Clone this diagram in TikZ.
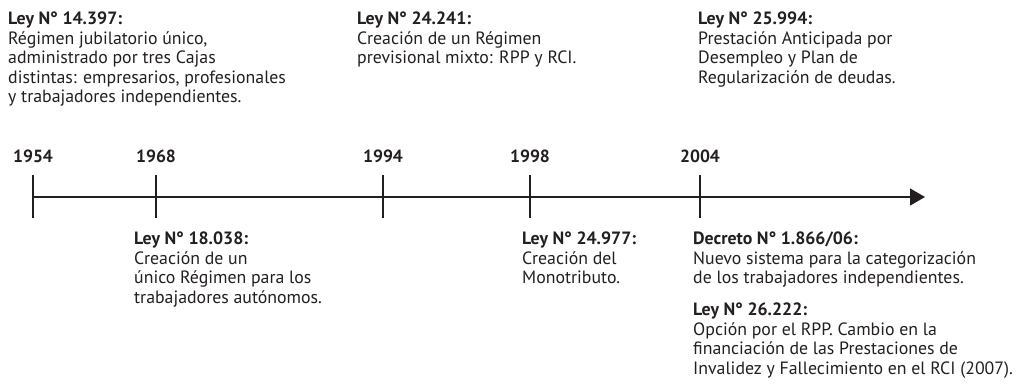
\documentclass[tikz,border=0pt]{standalone}
\usepackage{fontspec}
\setmainfont{PT Sans}
\usetikzlibrary{arrows.meta}
\definecolor{ink}{HTML}{231F20}
\begin{document}
\begin{tikzpicture}[x=1pt,y=-1pt,
  yearlab/.style={font=\bfseries\fontsize{17.6}{19}\selectfont, text=ink, anchor=base, inner sep=0pt},
  event/.style={font=\fontsize{17.8}{19.4}\selectfont, text=ink, align=left, anchor=north west, inner sep=0pt},
  axis/.style={line width=1.4pt, draw=ink}]
\useasboundingbox (0,0) rectangle (1025,385);
% axis with arrow
\coordinate (start) at (33,197);
\coordinate (end) at (925,197);
\draw[axis, -{Triangle[length=15pt,width=17pt]}] (start) -- (end);
% ticks and years
\foreach \yr/\x in {1954/33,1968/156,1994/383,1998/530,2004/700} {
  \coordinate (t\yr) at (\x,175);
  \coordinate (b\yr) at (\x,218);
  \draw[axis] (t\yr) -- (b\yr);
  \node[yearlab] (y\yr) at (\x,162) {\yr};
}
% events above the axis
\node[event] (e1954) at (8,12) {\textbf{Ley N° 14.397:}\\Régimen jubilatorio único,\\administrado por tres Cajas\\distintas: empresarios, profesionales\\y trabajadores independientes.};
\node[event] (e1994) at (357,12) {\textbf{Ley N° 24.241:}\\Creación de un Régimen\\previsional mixto: RPP y RCI.};
\node[event] (e2004top) at (698,12) {\textbf{Ley N° 25.994:}\\Prestación Anticipada por\\Desempleo y Plan de\\Regularización de deudas.};
% events below the axis
\node[event] (e1968) at (134,232) {\textbf{Ley N° 18.038:}\\Creación  de un\\único Régimen para los\\trabajadores autónomos.};
\node[event] (e1998) at (522,232) {\textbf{Ley N° 24.977:}\\Creación del\\Monotributo.};
\node[event] (e2004) at (693,232) {\textbf{Decreto N° 1.866/06:}\\Nuevo sistema para la categorización\\de los trabajadores independientes.};
\node[event] (e2007) at (693,303) {\textbf{Ley N° 26.222:}\\Opción por el RPP. Cambio en la\\financiación de las Prestaciones de\\Invalidez y Fallecimiento en el RCI (2007).};
\end{tikzpicture}
\end{document}
